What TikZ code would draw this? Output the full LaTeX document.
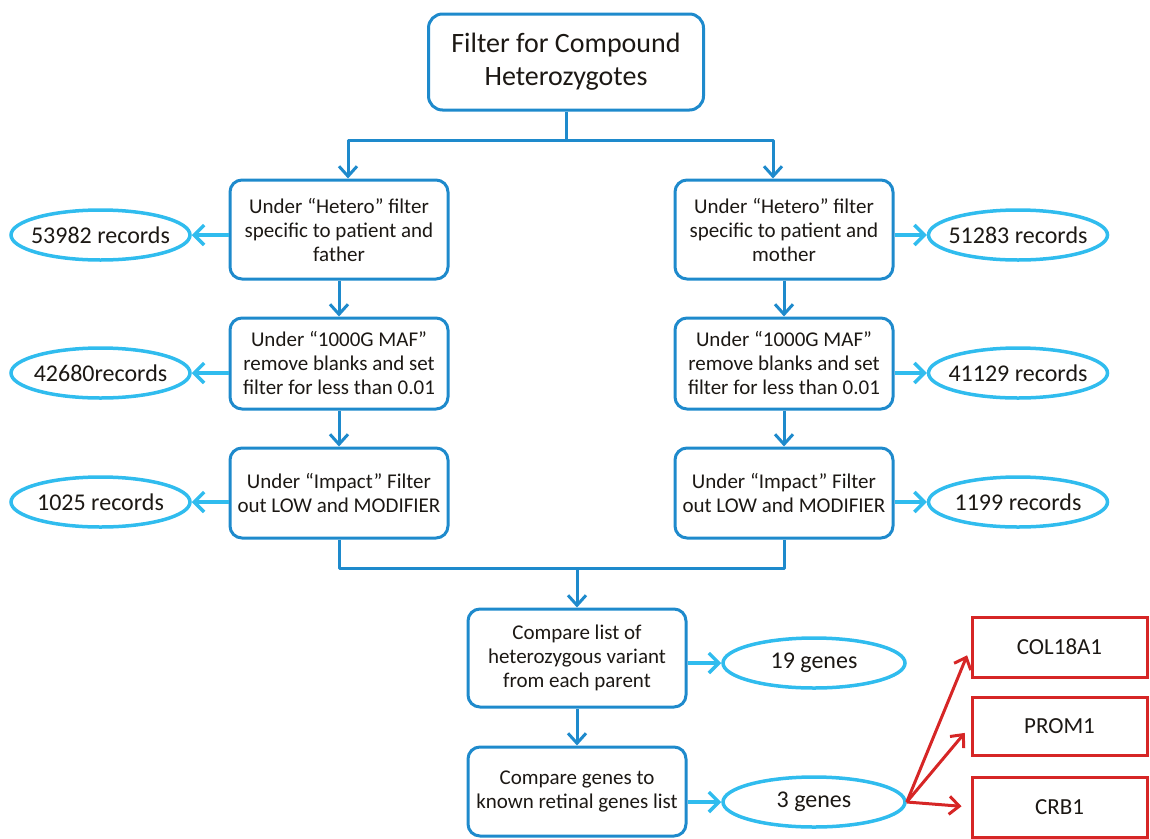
\documentclass[tikz,border=0pt]{standalone}
\usepackage{fontspec}
\setmainfont{Carlito}
\usetikzlibrary{arrows.meta,shapes.geometric}
\definecolor{boxblue}{RGB}{30,138,204}
\definecolor{cyanb}{RGB}{48,188,238}
\definecolor{redb}{RGB}{214,38,38}
\definecolor{txt}{RGB}{28,24,20}
\begin{document}
\begin{tikzpicture}[x=1pt,y=-1pt,
  every node/.style={text=txt},
  stepbox/.style={draw=boxblue,line width=3pt,rounded corners=12pt,align=center,
    minimum width=218pt,inner sep=0pt,font=\fontsize{21}{24}\selectfont},
  titlebox/.style={draw=boxblue,line width=3pt,rounded corners=14pt,align=center,
    minimum width=275pt,minimum height=96pt,inner sep=0pt,font=\fontsize{28}{33}\selectfont},
  countell/.style={draw=cyanb,ellipse,line width=3.5pt,minimum width=179pt,minimum height=50pt,
    inner xsep=-16pt,inner ysep=0pt,font=\fontsize{24}{28}\selectfont},
  genebox/.style={draw=redb,line width=3pt,minimum width=175pt,inner sep=0pt,
    font=\fontsize{23}{26}\selectfont},
  flow/.style={draw=boxblue,line width=3pt,line join=round,
    -{Straight Barb[length=10pt,width=18pt,line width=3pt]}},
  flowline/.style={draw=boxblue,line width=3pt,line join=round},
  side/.style={draw=cyanb,line width=4pt,
    -{Straight Barb[length=10pt,width=20pt,line width=3.5pt]}},
  redarrow/.style={draw=redb,line width=3pt,shorten >=9pt,
    -{Straight Barb[length=10pt,width=18pt,line width=3pt]}}
]
\useasboundingbox (0,0) rectangle (1150,838);

\node[titlebox] (top) at (566,62) {Filter for Compound\\Heterozygotes};

\node[stepbox,minimum height=99pt] (L1) at (339,229.5) {Under ``Hetero'' filter\\specific to patient and\\father};
\node[stepbox,minimum height=99pt] (R1) at (784,229.5) {Under ``Hetero'' filter\\specific to patient and\\mother};
\node[stepbox,minimum height=91pt] (L2) at (339,363.5) {Under ``1000G MAF''\\remove blanks and set\\filter for less than 0.01};
\node[stepbox,minimum height=91pt] (R2) at (784,363.5) {Under ``1000G MAF''\\remove blanks and set\\filter for less than 0.01};
\node[stepbox,minimum height=90pt] (L3) at (339,493) {Under ``Impact'' Filter\\out LOW and MODIFIER};
\node[stepbox,minimum height=90pt] (R3) at (784,493) {Under ``Impact'' Filter\\out LOW and MODIFIER};
\node[stepbox,minimum height=98pt] (C1) at (577,658) {Compare list of\\heterozygous variant\\from each parent};
\node[stepbox,minimum height=89pt] (C2) at (577,791.5) {Compare genes to\\known retinal genes list};

\node[countell] (E1) at (100.5,235) {53982 records};
\node[countell] (E2) at (100.5,373) {42680records};
\node[countell] (E3) at (100.5,502) {1025 records};
\node[countell] (F1) at (1018,235) {51283 records};
\node[countell] (F2) at (1018,373) {41129 records};
\node[countell] (F3) at (1018,502) {1199 records};
\node[countell,minimum width=182pt] (G1) at (814,663) {19 genes};
\node[countell,minimum width=182pt] (G3) at (814,802) {3 genes};

\node[genebox,minimum height=60pt] (K1) at (1059.5,647) {COL18A1};
\node[genebox,minimum height=58pt] (K2) at (1059.5,726) {PROM1};
\node[genebox,minimum height=60pt] (K3) at (1059.5,807) {CRB1};

% top split
\coordinate (j1) at (566,140);
\draw[flowline] (top.south) -- (j1);
\draw[flow] (j1) -| ([xshift=9pt]L1.north);
\draw[flow] (j1) -| ([xshift=-11pt]R1.north);

% vertical chains
\draw[flow] (L1.south) -- (L2.north);
\draw[flow] (L2.south) -- (L3.north);
\draw[flow] (R1.south) -- (R2.north);
\draw[flow] (R2.south) -- (R3.north);

% join
\coordinate (j2) at (577,568);
\draw[flowline] (L3.south) |- (j2) -| (R3.south);
\draw[flow] (j2) -- (C1.north);
\draw[flow] (C1.south) -- (C2.north);

% side arrows
\draw[side] (L1.west |- E1) -- (E1.east);
\draw[side] (L2.west |- E2) -- (E2.east);
\draw[side] (L3.west |- E3) -- (E3.east);
\draw[side] (R1.east |- F1) -- (F1.west);
\draw[side] (R2.east |- F2) -- (F2.west);
\draw[side] (R3.east |- F3) -- (F3.west);
\draw[side] (C1.east |- G1) -- (G1.west);
\draw[side] (C2.east |- G3) -- (G3.west);

% red arrows
\draw[redarrow] (G3.east) -- (K1.west);
\draw[redarrow] (G3.east) -- (K2.west);
\draw[redarrow] (G3.east) -- (K3.west);
\end{tikzpicture}
\end{document}
